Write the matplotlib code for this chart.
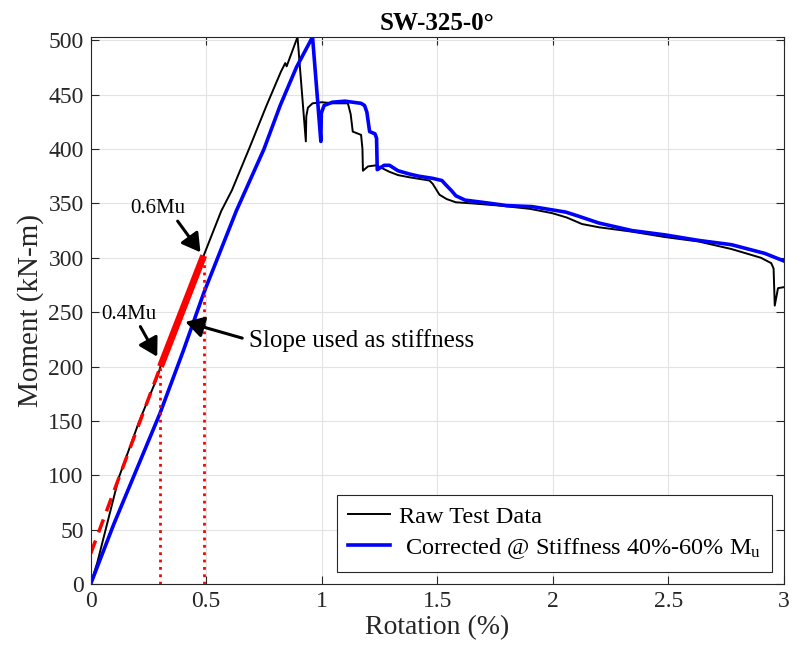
import matplotlib
matplotlib.use("Agg")
import matplotlib.pyplot as plt

plt.rcParams['font.family'] = ['Liberation Serif', 'DejaVu Serif']
plt.rcParams['mathtext.fontset'] = 'custom'
plt.rcParams['mathtext.rm'] = 'Liberation Serif'
plt.rcParams['mathtext.it'] = 'Liberation Serif'

# raw test data (black)
raw_rot = [0, 0.029, 0.122, 0.209, 0.288, 0.302, 0.489, 0.565, 0.611, 0.687, 0.759,
           0.823, 0.842, 0.848, 0.895, 0.931, 0.933, 0.94, 0.96, 1.0, 1.05, 1.113,
           1.125, 1.134, 1.17, 1.176, 1.178, 1.2, 1.236, 1.293, 1.33, 1.379, 1.466,
           1.48, 1.509, 1.54, 1.58, 1.65, 1.767, 1.9, 1.997, 2.06, 2.126, 2.2, 2.342,
           2.486, 2.629, 2.773, 2.9, 2.945, 2.955, 2.96, 2.974, 3.0]
raw_m = [0, 20, 98, 149, 190, 200, 302, 343, 362, 401, 439,
         471, 479, 476, 503, 407, 430, 438, 442, 443, 442, 442,
         432, 416, 413, 400, 380, 384, 385, 379, 376, 374, 371,
         368, 358, 354, 351, 350, 348, 345, 341, 337, 331, 328, 324,
         319, 315, 308, 300, 295, 290, 256, 272, 273]

# corrected curve (blue)
cor_rot = [0, 0.1, 0.2, 0.3, 0.4, 0.49, 0.63, 0.75, 0.82, 0.89, 0.96, 0.996, 0.998,
           1.01, 1.046, 1.1, 1.17, 1.185, 1.195, 1.207, 1.23, 1.237, 1.24, 1.27,
           1.293, 1.33, 1.379, 1.42, 1.48, 1.52, 1.537, 1.56, 1.58, 1.62, 1.695,
           1.8, 1.911, 2.055, 2.1, 2.198, 2.342, 2.486, 2.629, 2.773, 2.917, 3.0]
cor_m = [0, 55, 106, 157, 214, 268, 343, 400, 440, 475, 503, 407, 433,
         440, 443, 444, 442, 440, 434, 416, 414, 410, 381, 385,
         385, 380, 377, 375, 373, 371, 367, 362, 357, 353, 351,
         348, 347, 342, 339, 332, 325, 321, 316, 312, 304, 297]

# stiffness fit between 0.4Mu and 0.6Mu
fit_rot = [0.302, 0.489]
fit_m = [200, 302]
ext_rot = [0, 0.302]
ext_m = [28, 200]

fig = plt.figure(figsize=(7.94, 6.57), dpi=100)
ax = fig.add_axes([0.1142, 0.1111, 0.8732, 0.8326])

ax.plot(raw_rot, raw_m, color='black', lw=1.4, label='Raw Test Data')
ax.plot(cor_rot, cor_m, color='blue', lw=2.6,
        label=r' Corrected @ Stiffness 40%-60% M$_\mathrm{u}$')
ax.plot(ext_rot, ext_m, color='red', lw=2.5, ls=(0, (4, 2.5)))
ax.plot(fit_rot, fit_m, color='red', lw=5, solid_capstyle='butt')
ax.plot([fit_rot[0], fit_rot[0]], [0, fit_m[0]], color='red', lw=2, ls=':')
ax.plot([fit_rot[1], fit_rot[1]], [0, fit_m[1]], color='red', lw=2, ls=':')

arrow = dict(arrowstyle='-|>,head_length=0.55,head_width=0.32', color='black',
             lw=2.2, mutation_scale=20, shrinkA=0, shrinkB=0)
ax.annotate('0.6Mu', xy=(0.475, 305), xytext=(0.29, 345), fontsize=15,
            ha='center', va='center', arrowprops=dict(arrow, relpos=(0.85, -0.1)))
ax.annotate('0.4Mu', xy=(0.288, 209), xytext=(0.165, 248), fontsize=15,
            ha='center', va='center', arrowprops=dict(arrow, relpos=(0.7, -0.1)))
ax.annotate('Slope used as stiffness', xy=(0.41, 241), xytext=(0.685, 224),
            fontsize=18, ha='left', va='center',
            arrowprops=dict(arrow, relpos=(-0.03, 0.6)))

ax.set_xlim(0, 3)
ax.set_ylim(0, 503)
ax.set_xticks([0, 0.5, 1, 1.5, 2, 2.5, 3])
ax.set_xticklabels(['0', '0.5', '1', '1.5', '2', '2.5', '3'])
ax.set_yticks(range(0, 501, 50))
ax.tick_params(direction='in', top=True, right=True, labelsize=17,
               colors='#262626', length=6, pad=5)
for s in ax.spines.values():
    s.set_color('#262626')
    s.set_linewidth(0.8)
ax.grid(True, color='#e3e3e3', lw=0.8)
ax.set_axisbelow(True)

ax.set_xlabel('Rotation (%)', fontsize=20, color='#262626', labelpad=2)
ax.set_ylabel('Moment (kN-m)', fontsize=21, color='#262626', labelpad=3)
ax.set_title('SW-325-0°', fontsize=18, fontweight='bold', pad=5)

leg = ax.legend(loc='lower right', fontsize=17.5, fancybox=False, framealpha=1,
                edgecolor='#262626', handlelength=1.75, handletextpad=0.35,
                borderaxespad=0.5, borderpad=0.45, labelspacing=0.35)
leg.get_frame().set_linewidth(0.8)

fig.savefig('out.png', dpi=100)
